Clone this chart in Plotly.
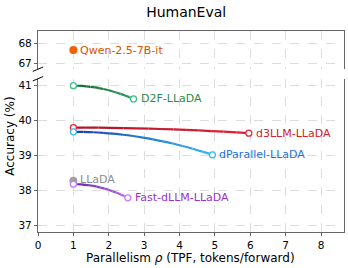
import plotly.graph_objects as go

# ---- data ----
qwen_x = [1.0]
qwen_y = [67.68]
llada_x = [1.0]
llada_y = [38.28]

d2f_x = [1.0, 2.70]
d2f_y = [41.0, 40.62]
d3llm_x = [1.0, 5.96]
d3llm_y = [39.80, 39.64]
dpar_x = [1.0, 4.93]
dpar_y = [39.68, 39.02]
fast_x = [1.0, 2.54]
fast_y = [38.18, 37.79]

x_ticks = [0, 1, 2, 3, 4, 5, 6, 7, 8]
y_ticks_top = [67, 68]
y_ticks_bottom = [37, 38, 39, 40, 41]

series = [
    dict(name="D2F-LLaDA", x=d2f_x, y=d2f_y, c0=(22, 100, 48), c1=(46, 160, 92),
         edge="#3cc08a", label="#2a8a4a"),
    dict(name="d3LLM-LLaDA", x=d3llm_x, y=d3llm_y, c0=(170, 22, 38), c1=(232, 32, 56),
         edge="#e8283c", label="#d4202c"),
    dict(name="dParallel-LLaDA", x=dpar_x, y=dpar_y, c0=(26, 60, 170), c1=(50, 185, 245),
         edge="#3ab8f0", label="#1f6fd6"),
    dict(name="Fast-dLLM-LLaDA", x=fast_x, y=fast_y, c0=(100, 30, 170), c1=(185, 110, 235),
         edge="#c87dfa", label="#9b30d0"),
]

FONT = "DejaVu Sans"
fig = go.Figure()
shapes = []
annotations = []


def blossom(p0, c, p2, u, v):
    return tuple((1 - u) * (1 - v) * p0[i] + ((1 - u) * v + u * (1 - v)) * c[i] + u * v * p2[i]
                 for i in range(2))


# grey reference marker first so the hollow markers sit on top
fig.add_trace(go.Scatter(x=llada_x, y=llada_y, mode="markers", xaxis="x", yaxis="y",
                         marker=dict(size=8, color="#a0a0a0"), showlegend=False))
annotations.append(dict(x=llada_x[0], y=llada_y[0], xref="x", yref="y", text="LLaDA",
                        showarrow=False, xanchor="left", yanchor="middle", xshift=5, yshift=1,
                        font=dict(family=FONT, size=11, color="#8c8c8c")))

N = 14
for s in series:
    p0 = (s["x"][0], s["y"][0])
    p2 = (s["x"][1], s["y"][1])
    c = ((p0[0] + p2[0]) / 2, p0[1])
    for k in range(N):
        a, b = k / N, (k + 1) / N
        s0 = blossom(p0, c, p2, a, a)
        sc = blossom(p0, c, p2, a, b)
        s1 = blossom(p0, c, p2, b, b)
        t = (a + b) / 2
        col = tuple(int(s["c0"][i] + (s["c1"][i] - s["c0"][i]) * t) for i in range(3))
        shapes.append(dict(type="path", xref="x", yref="y", layer="between",
                           path=f"M {s0[0]},{s0[1]} Q {sc[0]},{sc[1]} {s1[0]},{s1[1]}",
                           line=dict(color=f"rgb{col}", width=2.2)))
    fig.add_trace(go.Scatter(x=s["x"], y=s["y"], mode="markers", xaxis="x", yaxis="y",
                             marker=dict(size=6, color="white",
                                         line=dict(color=s["edge"], width=1.3)),
                             showlegend=False, hoverinfo="skip"))
    annotations.append(dict(x=s["x"][-1], y=s["y"][-1], xref="x", yref="y", text=s["name"],
                            showarrow=False, xanchor="left", yanchor="middle", xshift=5,
                            font=dict(family=FONT, size=11, color=s["label"])))

fig.add_trace(go.Scatter(x=qwen_x, y=qwen_y, mode="markers", xaxis="x2", yaxis="y2",
                         marker=dict(size=8, color="#f06000"), showlegend=False))
annotations.append(dict(x=qwen_x[0], y=qwen_y[0], xref="x2", yref="y2", text="Qwen-2.5-7B-it",
                        showarrow=False, xanchor="left", yanchor="middle", xshift=5,
                        font=dict(family=FONT, size=11, color="#d45500")))

# axis titles
annotations.append(dict(x=-0.092, y=0.478, xref="paper", yref="paper", text="Accuracy (%)",
                        textangle=-90, showarrow=False, xanchor="center", yanchor="middle",
                        font=dict(family=FONT, size=12, color="black")))
annotations.append(dict(x=0.497, y=-0.128, xref="paper", yref="paper",
                        text="Parallelism <i>ρ</i> (TPF, tokens/forward)",
                        showarrow=False, xanchor="center", yanchor="middle",
                        font=dict(family=FONT, size=12, color="black")))

# break marks
for yy in [0.81, 0.7626]:
    shapes.append(dict(type="line", xref="paper", yref="paper",
                       x0=-0.017, x1=0.017, y0=yy - 0.011, y1=yy + 0.011,
                       line=dict(color="black", width=1)))

spine = "#666666"
grid = dict(showgrid=True, gridcolor="#dddddd", gridwidth=0.8, griddash="dash")
axfont = dict(family=FONT, size=10.5, color="black")

fig.update_layout(
    width=348, height=268,
    margin=dict(l=38, r=4, t=31, b=36, autoexpand=False),
    plot_bgcolor="white", paper_bgcolor="white",
    title=dict(text="HumanEval", x=0.535, xanchor="center", y=0.955, yanchor="middle",
               font=dict(family=FONT, size=14, color="black")),
    xaxis=dict(domain=[0, 1], anchor="y", range=[0, 8.65], tickvals=x_ticks,
               showline=True, linecolor=spine, linewidth=1.2, mirror=False, automargin=False,
               ticks="outside", ticklen=3, tickcolor=spine, tickfont=axfont,
               zeroline=False, **grid),
    yaxis=dict(domain=[0, 0.7626], anchor="x", range=[36.81, 41.2], tickvals=y_ticks_bottom,
               showline=True, linecolor=spine, linewidth=1.2, mirror=True, automargin=False,
               ticks="outside", ticklen=3, tickcolor=spine, tickfont=axfont,
               zeroline=False, **grid),
    xaxis2=dict(domain=[0, 1], anchor="y2", matches="x", range=[0, 8.65], tickvals=x_ticks,
                side="top", showticklabels=False, showline=True, linecolor=spine, linewidth=1.2,
                ticks="", zeroline=False, automargin=False, **grid),
    yaxis2=dict(domain=[0.81, 1], anchor="x2", range=[66.72, 68.63], tickvals=y_ticks_top,
                showline=True, linecolor=spine, linewidth=1.2, mirror=True, automargin=False,
                ticks="outside", ticklen=3, tickcolor=spine, tickfont=axfont,
                zeroline=False, **grid),
    shapes=shapes,
    annotations=annotations,
)

fig.write_html("out.html", config={"displayModeBar": False},
               post_script="document.body.style.margin='0';document.body.style.padding='0';")
